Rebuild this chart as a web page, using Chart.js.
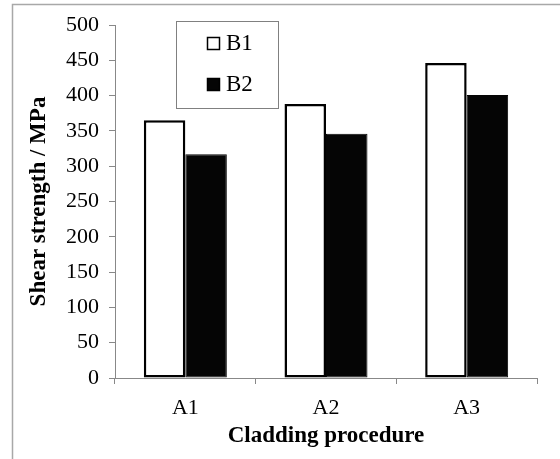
<!DOCTYPE html>
<html>
<head>
<meta charset="utf-8">
<style>
  html, body { margin: 0; padding: 0; background: #fff; }
  #wrap { width: 560px; height: 459px; position: relative; }
</style>
<script src="https://cdn.jsdelivr.net/npm/chart.js@4/dist/chart.umd.min.js"></script>
</head>
<body>
<div id="wrap"><canvas id="shearChart" width="560" height="459"></canvas></div>
<script>
// Data
const categories = ['A1', 'A2', 'A3'];
const seriesNames = ['B1', 'B2'];
const b1Values = [365, 388, 446];
const b2Values = [317, 346, 401];
const yTicks = [0, 50, 100, 150, 200, 250, 300, 350, 400, 450, 500];

const serif = '"Liberation Serif", "Times New Roman", serif';

// Grey frame lines of the cropped figure (top and left)
const framePlugin = {
    id: 'frame',
    beforeDraw(chart) {
        const ctx = chart.ctx;
        ctx.save();
        ctx.strokeStyle = '#a8a8a8';
        ctx.lineWidth = 1.5;
        ctx.beginPath();
        ctx.moveTo(12.5, chart.height);
        ctx.lineTo(12.5, 4.5);
        ctx.lineTo(chart.width, 4.5);
        ctx.stroke();
        ctx.restore();
    }
};

// Boxed legend sitting inside the plot, upper left
const boxLegend = {
    id: 'boxLegend',
    afterDraw(chart) {
        const ctx = chart.ctx;
        const left = 176, top = 21, w = 102, h = 87;
        ctx.save();
        ctx.fillStyle = '#fff';
        ctx.fillRect(left, top, w, h);
        ctx.strokeStyle = '#808080';
        ctx.lineWidth = 1;
        ctx.strokeRect(left + 0.5, top + 0.5, w, h);
        ctx.font = '23px ' + serif;
        ctx.textBaseline = 'middle';
        ctx.textAlign = 'left';
        chart.data.datasets.forEach((ds, i) => {
            const cy = i === 0 ? 43 : 84;
            ctx.fillStyle = ds.backgroundColor;
            ctx.fillRect(207, cy - 6, 13, 13);
            ctx.strokeStyle = '#000';
            ctx.lineWidth = 1.5;
            ctx.strokeRect(207.5, cy - 5.5, 12, 12);
            ctx.fillStyle = '#000';
            ctx.fillText(ds.label, 226, cy + 1);
        });
        ctx.restore();
    }
};

new Chart(document.getElementById('shearChart'), {
    type: 'bar',
    data: {
        labels: categories,
        datasets: [
            {
                label: seriesNames[0],
                data: b1Values,
                backgroundColor: '#ffffff',
                borderColor: '#000000',
                borderWidth: 2.5,
                borderSkipped: false
            },
            {
                label: seriesNames[1],
                data: b2Values,
                backgroundColor: '#050505',
                borderColor: '#050505',
                borderWidth: 1,
                borderSkipped: false
            }
        ]
    },
    options: {
        responsive: false,
        animation: false,
        layout: { padding: { top: 25, right: 23, left: 0, bottom: 0 } },
        datasets: {
            bar: { barPercentage: 1, categoryPercentage: 0.59 }
        },
        plugins: {
            legend: { display: false },
            tooltip: { enabled: false },
            title: { display: false }
        },
        scales: {
            x: {
                grid: { drawOnChartArea: false, drawTicks: true, tickLength: 6, color: '#888', offset: true },
                border: { display: true, color: '#888', width: 1 },
                ticks: { color: '#000', padding: 11, font: { family: serif, size: 22 } },
                title: {
                    display: true,
                    text: 'Cladding procedure',
                    color: '#000',
                    font: { family: serif, size: 23, weight: 'bold' },
                    padding: { top: 0, bottom: 9 }
                },
                afterFit(scale) { scale.height = 81; }
            },
            y: {
                min: 0,
                max: 500,
                afterBuildTicks(scale) {
                    scale.ticks = yTicks.map(v => ({ value: v }));
                },
                grid: { drawOnChartArea: false, drawTicks: true, tickLength: 6, color: '#888' },
                border: { display: true, color: '#888', width: 1 },
                ticks: { color: '#000', padding: 10, font: { family: serif, size: 22 } },
                title: {
                    display: true,
                    text: 'Shear strength / MPa',
                    color: '#000',
                    font: { family: serif, size: 23, weight: 'bold' },
                    padding: { top: 25, bottom: 0 }
                },
                afterFit(scale) { scale.width = 115; }
            }
        }
    },
    plugins: [framePlugin, boxLegend]
});
</script>
</body>
</html>
